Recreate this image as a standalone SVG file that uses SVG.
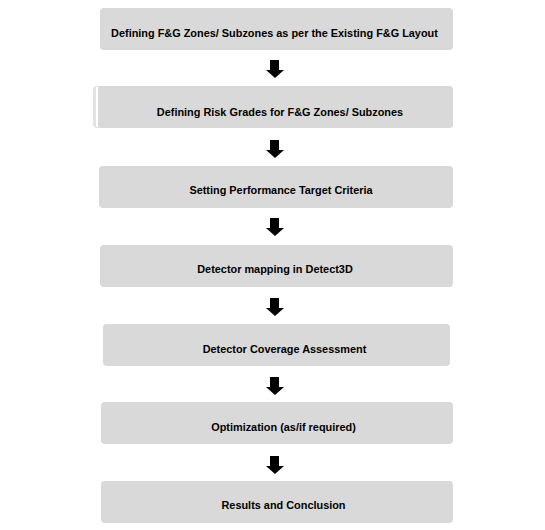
<svg xmlns="http://www.w3.org/2000/svg" width="545" height="530" viewBox="0 0 545 530">
<style>
.box{fill:#d9d9d9;}
.lbl{font-family:"Liberation Sans",Arial,sans-serif;font-weight:bold;font-size:10.9px;fill:#000;text-anchor:middle;}
.arr{fill:#000;}
</style>
<defs>
<path id="ar" d="M-5,0 H4 V10 H9 L0,18 L-9,10 H-5 Z"/>
</defs>
<rect width="545" height="530" fill="#fff"/>
<g id="n1"><rect class="box" x="100" y="8" width="353" height="42" rx="4"/><text class="lbl" x="274.5" y="37">Defining F&amp;G Zones/ Subzones as per the Existing F&amp;G Layout</text></g>
<g id="n2"><rect x="93" y="86" width="360" height="42" rx="4" fill="#e3e3e3"/><rect x="96" y="87" width="2" height="40" fill="#fff"/><rect class="box" x="98" y="86" width="355" height="42" rx="4"/><text class="lbl" x="280" y="116">Defining Risk Grades for F&amp;G Zones/ Subzones</text></g>
<g id="n3"><rect class="box" x="99" y="166" width="354" height="42" rx="4"/><text class="lbl" x="281" y="194">Setting Performance Target Criteria</text></g>
<g id="n4"><rect class="box" x="100" y="245" width="353" height="42" rx="4"/><text class="lbl" x="275" y="273">Detector mapping in Detect3D</text></g>
<g id="n5"><rect class="box" x="103" y="324" width="347" height="42" rx="4"/><text class="lbl" x="284.5" y="353">Detector Coverage Assessment</text></g>
<g id="n6"><rect class="box" x="101" y="402" width="352" height="42" rx="4"/><text class="lbl" x="283.5" y="431">Optimization (as/if required)</text></g>
<g id="n7"><rect class="box" x="101" y="481" width="352" height="42" rx="4"/><text class="lbl" x="283.5" y="509">Results and Conclusion</text></g>
<g id="connectors" class="arr">
<use href="#ar" x="275" y="60"/>
<use href="#ar" x="275" y="140"/>
<use href="#ar" x="275" y="218"/>
<use href="#ar" x="275" y="298"/>
<use href="#ar" x="275" y="377"/>
<use href="#ar" x="275" y="456"/>
</g>
</svg>
